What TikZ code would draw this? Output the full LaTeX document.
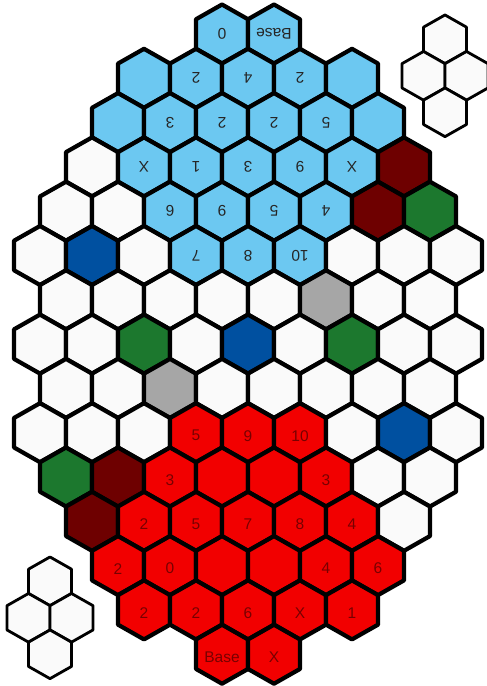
\documentclass[tikz,border=0pt]{standalone}
\usepackage{fontspec}
\setmainfont{Liberation Sans}
\usepackage{xcolor}
\usepackage{tikz}

\definecolor{sky}{RGB}{108,200,241}
\definecolor{fire}{RGB}{242,0,0}
\definecolor{maroon}{RGB}{110,0,0}
\definecolor{leaf}{RGB}{28,120,46}
\definecolor{navy}{RGB}{0,80,160}
\definecolor{stone}{RGB}{166,166,166}
\definecolor{paper}{RGB}{250,250,250}
\definecolor{ink}{RGB}{120,0,0}

\tikzset{
  hexa/.pic={\path[pic actions] (0,-29.5) -- (26,-14.75) -- (26,14.75) -- (0,29.5) -- (-26,14.75) -- (-26,-14.75) -- cycle;},
  cell/.style={draw=black, line width=4.2pt, line join=round},
  mini/.style={draw=black, fill=paper, line width=2.8pt, line join=round, scale=0.825},
  tag/.style={inner sep=0pt, font=\fontsize{15.5}{15.5}\selectfont},
  uptag/.style={tag, rotate=180, text=black!85},
  redtag/.style={tag, text=ink, yshift=-3pt},
}

\begin{document}
\begin{tikzpicture}[x=1pt, y=-1pt]
  \fill[white] (0,0) rectangle (487,686);
  \useasboundingbox (0,0) rectangle (487,686);
  % board, row by row
  \foreach \r/\cells in {
      1/{3/sky,4/sky},
      2/{2/sky,3/sky,4/sky,5/sky,6/sky},
      3/{1/sky,2/sky,3/sky,4/sky,5/sky,6/sky},
      4/{1/paper,2/sky,3/sky,4/sky,5/sky,6/sky,7/maroon},
      5/{0/paper,1/paper,2/sky,3/sky,4/sky,5/sky,6/maroon,7/leaf},
      6/{0/paper,1/navy,2/paper,3/sky,4/sky,5/sky,6/paper,7/paper,8/paper},
      7/{0/paper,1/paper,2/paper,3/paper,4/paper,5/stone,6/paper,7/paper},
      8/{0/paper,1/paper,2/leaf,3/paper,4/navy,5/paper,6/leaf,7/paper,8/paper},
      9/{0/paper,1/paper,2/stone,3/paper,4/paper,5/paper,6/paper,7/paper},
      10/{0/paper,1/paper,2/paper,3/fire,4/fire,5/fire,6/paper,7/navy,8/paper},
      11/{0/leaf,1/maroon,2/fire,3/fire,4/fire,5/fire,6/paper,7/paper},
      12/{1/maroon,2/fire,3/fire,4/fire,5/fire,6/fire,7/paper},
      13/{1/fire,2/fire,3/fire,4/fire,5/fire,6/fire},
      14/{2/fire,3/fire,4/fire,5/fire,6/fire},
      15/{3/fire,4/fire}}
    \foreach \k/\c in \cells {
      \pgfmathsetmacro\cx{40+26*mod(\r,2)+52*\k}
      \pgfmathsetmacro\cy{34+44.3*(\r-1)}
      \coordinate (c-\r-\k) at (\cx,\cy);
      \pic[cell, fill=\c] at (c-\r-\k) {hexa};
    }
  % upside-down labels
  \foreach \r/\k/\t in {1/3/0, 1/4/Base, 2/3/2, 2/4/4, 2/5/2,
      3/2/3, 3/3/2, 3/4/2, 3/5/5, 4/2/X, 4/3/1, 4/4/3, 4/5/9, 4/6/X,
      5/2/6, 5/3/9, 5/4/5, 5/5/4, 6/3/7, 6/4/8, 6/5/10}
    \node[uptag] (t-\r-\k) at (c-\r-\k) {\t};
  % red labels
  \foreach \r/\k/\t in {10/3/5, 10/4/9, 10/5/10, 11/2/3, 11/5/3,
      12/2/2, 12/3/5, 12/4/7, 12/5/8, 12/6/4, 13/1/2, 13/2/0, 13/5/4, 13/6/6,
      14/2/2, 14/3/2, 14/4/6, 14/5/X, 14/6/1, 15/3/Base, 15/4/X}
    \node[redtag] (t-\r-\k) at (c-\r-\k) {\t};
  % small clusters
  \foreach \x/\y in {445/39.3, 423.5/75.8, 466.5/75.8, 445/112.3,
      50/581.3, 28.5/617.8, 71.5/617.8, 50/654.3}
    \pic[mini] at (\x,\y) {hexa};
\end{tikzpicture}
\end{document}
